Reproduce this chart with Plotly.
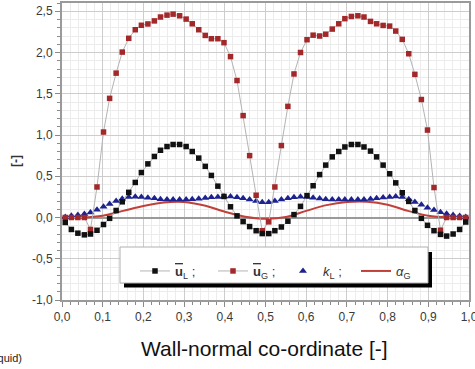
import plotly.graph_objects as go

# ---- data ----
x_pos = [0.008, 0.023, 0.039, 0.055, 0.070, 0.086, 0.102, 0.117, 0.133, 0.148, 0.164, 0.180,
         0.195, 0.211, 0.227, 0.242, 0.258, 0.273, 0.289, 0.305, 0.320, 0.336, 0.352, 0.367,
         0.383, 0.398, 0.414, 0.430, 0.445, 0.461, 0.477, 0.492, 0.508, 0.523, 0.539, 0.555,
         0.570, 0.586, 0.602, 0.617, 0.633, 0.648, 0.664, 0.680, 0.695, 0.711, 0.727, 0.742,
         0.758, 0.773, 0.789, 0.805, 0.820, 0.836, 0.852, 0.867, 0.883, 0.898, 0.914, 0.930,
         0.945, 0.961, 0.977, 0.992]

u_L = [-0.06, -0.145, -0.19, -0.21, -0.20, -0.155, -0.085, -0.01, 0.085, 0.19, 0.305, 0.425,
       0.545, 0.65, 0.74, 0.815, 0.86, 0.885, 0.885, 0.86, 0.80, 0.72, 0.62, 0.51,
       0.38, 0.255, 0.13, 0.02, -0.05, -0.11, -0.16, -0.195, -0.195, -0.16, -0.115, -0.045,
       0.035, 0.135, 0.265, 0.385, 0.52, 0.635, 0.735, 0.80, 0.855, 0.885, 0.885, 0.855,
       0.805, 0.735, 0.635, 0.53, 0.42, 0.30, 0.195, 0.085, -0.01, -0.095, -0.16, -0.205,
       -0.225, -0.20, -0.145, -0.055]

u_G = [0.0, 0.0, 0.0, 0.0, -0.145, 0.37, 1.036, 1.444, 1.75, 2.005, 2.172, 2.276,
       2.33, 2.346, 2.383, 2.43, 2.453, 2.465, 2.445, 2.405, 2.348, 2.276, 2.207, 2.167,
       2.167, 2.119, 1.95, 1.66, 1.235, 0.75, 0.27, -0.16, -0.053, 0.37, 0.872, 1.347,
       1.74, 2.0, 2.155, 2.21, 2.20, 2.222, 2.284, 2.348, 2.41, 2.437, 2.445, 2.43,
       2.377, 2.348, 2.328, 2.32, 2.26, 2.159, 1.985, 1.735, 1.43, 1.06, 0.363, -0.154,
       0.0, 0.0, 0.0, 0.0]

k_L = [0.007, 0.02, 0.03, 0.042, 0.06, 0.095, 0.13, 0.165, 0.2, 0.228, 0.25, 0.252,
       0.248, 0.24, 0.232, 0.222, 0.218, 0.218, 0.218, 0.218, 0.22, 0.228, 0.237, 0.245,
       0.248, 0.254, 0.254, 0.246, 0.234, 0.218, 0.2, 0.185, 0.185, 0.2, 0.218, 0.232,
       0.245, 0.252, 0.25, 0.24, 0.23, 0.222, 0.218, 0.218, 0.218, 0.218, 0.218, 0.218,
       0.225, 0.234, 0.242, 0.25, 0.256, 0.25, 0.22, 0.187, 0.155, 0.117, 0.09, 0.064,
       0.044, 0.03, 0.018, 0.007]

alpha_x = [0.0, 0.05, 0.1, 0.15, 0.2, 0.25, 0.3, 0.35, 0.4, 0.45, 0.5,
           0.55, 0.6, 0.65, 0.7, 0.75, 0.8, 0.85, 0.9, 0.95, 1.0]
alpha_G = [0.0, 0.0, 0.022, 0.08, 0.14, 0.182, 0.188, 0.145, 0.07, 0.01, -0.015,
           0.005, 0.08, 0.15, 0.188, 0.192, 0.155, 0.08, 0.02, 0.0, 0.0]

y_tick_vals = [-1.0, -0.5, 0.0, 0.5, 1.0, 1.5, 2.0, 2.5]
y_tick_text = ["-1,0", "-0,5", "0,0", "0,5", "1,0", "1,5", "2,0", "2,5"]

OVER = "<span style='text-decoration:overline;text-decoration-color:#999'><b>u</b></span>"
names = [OVER + "<sub>L</sub> ;", OVER + "<sub>G</sub> ;",
         "<i>k</i><sub>L</sub> ;", "<i>α</i><sub>G</sub>"]

FONT = "Liberation Sans, Arial, sans-serif"
W, H = 475, 369
L, R, T, B = 62, 6, 3, 69
pw, ph = W - L - R, H - T - B


def px_x(p):
    return (p - L) / pw


def px_y(p):
    return (H - B - p) / ph


fig = go.Figure()
fig.add_trace(go.Scatter(x=alpha_x, y=alpha_G, mode="lines", name=names[3],
                         line=dict(color="#c0403a", width=2, shape="spline", smoothing=0.8),
                         legend="legend4"))
fig.add_trace(go.Scatter(x=x_pos, y=k_L, mode="markers", name=names[2],
                         marker=dict(symbol="triangle-up", size=7, color="#1c2290"),
                         legend="legend3"))
fig.add_trace(go.Scatter(x=x_pos, y=u_G, mode="lines+markers", name=names[1],
                         line=dict(color="#b4b4b4", width=1),
                         marker=dict(symbol="square", size=5.5, color="#a3282a"),
                         legend="legend2"))
fig.add_trace(go.Scatter(x=x_pos, y=u_L, mode="lines+markers", name=names[0],
                         line=dict(color="#b4b4b4", width=1),
                         marker=dict(symbol="square", size=5.5, color="#111111"),
                         legend="legend"))

axis_common = dict(
    showline=True, linecolor="#9a9a9a", linewidth=2, mirror=True,
    ticks="outside", ticklen=5, tickcolor="#8a8a8a", tickwidth=1,
    showgrid=True, gridcolor="#cdcdcd", gridwidth=1,
    tickfont=dict(family=FONT, size=12, color="#3a3a3a"),
    ticklabeloverflow="allow", automargin=False,
)

fig.update_xaxes(range=[0, 1], dtick=0.1, tick0=0, tickformat=".1f", zeroline=False,
                 minor=dict(dtick=0.02, tick0=0, showgrid=True, gridcolor="#ececec",
                            ticks="outside", ticklen=3, tickcolor="#8a8a8a"),
                 **axis_common)
fig.update_yaxes(range=[-1.0, 2.6], tickmode="array", tickvals=y_tick_vals,
                 ticktext=y_tick_text, zeroline=True, zerolinecolor="#9a9a9a",
                 zerolinewidth=2,
                 minor=dict(dtick=0.1, tick0=0, showgrid=True, gridcolor="#ececec",
                            ticks="outside", ticklen=3, tickcolor="#8a8a8a"),
                 **axis_common)

# legend frame with drop shadow
fig.add_shape(type="rect", xref="paper", yref="paper", layer="above",
              x0=px_x(124), x1=px_x(432), y0=px_y(287.5), y1=px_y(252),
              fillcolor="black", line=dict(width=0))
fig.add_shape(type="rect", xref="paper", yref="paper", layer="above",
              x0=px_x(120), x1=px_x(428), y0=px_y(283), y1=px_y(247),
              fillcolor="white", line=dict(color="#b0b0b0", width=1))


def leg(xpix):
    return dict(orientation="h", x=px_x(xpix), xanchor="left",
                y=px_y(271), yanchor="middle",
                bgcolor="rgba(0,0,0,0)", borderwidth=0,
                font=dict(family=FONT, size=13, color="#333333"))


fig.update_layout(
    width=W, height=H,
    margin=dict(l=L, r=R, t=T, b=B, autoexpand=False),
    paper_bgcolor="white", plot_bgcolor="white",
    separators=",.",
    showlegend=True,
    legend=leg(135), legend2=leg(213), legend3=leg(283), legend4=leg(356),
    annotations=[
        dict(text="Wall-normal co-ordinate [-]", xref="paper", yref="paper",
             x=px_x(264), y=px_y(348), xanchor="center", yanchor="middle",
             showarrow=False, font=dict(family=FONT, size=21, color="#111111")),
        dict(text="<b>[-]</b>", xref="paper", yref="paper", textangle=-90,
             x=px_x(16), y=px_y(161), xanchor="center", yanchor="middle",
             showarrow=False, font=dict(family=FONT, size=12, color="#333333")),
        dict(text="(liquid)", xref="paper", yref="paper",
             x=px_x(24), y=px_y(358), xanchor="right", yanchor="middle",
             showarrow=False, font=dict(family=FONT, size=11, color="#222222")),
    ],
)

fig.write_html("out.html")
